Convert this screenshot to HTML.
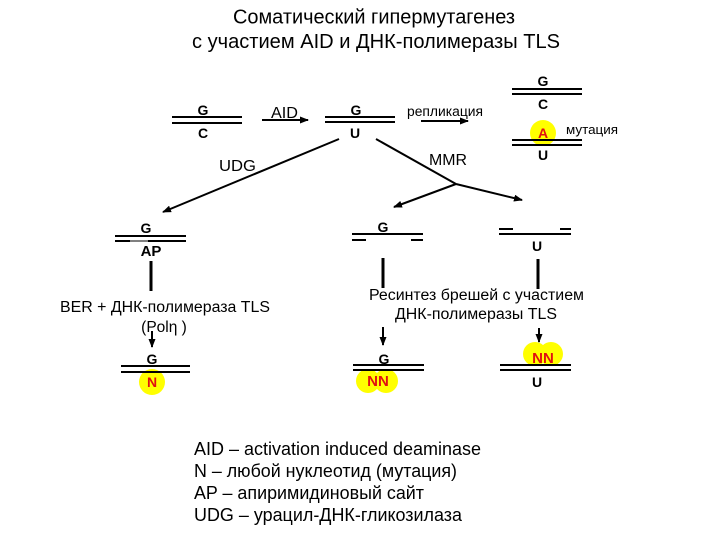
<!DOCTYPE html>
<html><head><meta charset="utf-8"><style>
html,body{margin:0;padding:0;background:#fff}
svg{display:block;font-family:"Liberation Sans",sans-serif}
text{fill:#000}
.b{font-weight:bold;font-size:14px;text-anchor:middle}
.r{font-weight:bold;font-size:14px;text-anchor:middle;fill:#e01010}
.m{font-size:15.5px}
.t{font-size:20px}
.l{font-size:18px}
</style></head><body>
<svg width="720" height="540" viewBox="0 0 720 540" xmlns="http://www.w3.org/2000/svg">
<defs><marker id="a" markerUnits="userSpaceOnUse" markerWidth="9" markerHeight="7" refX="8" refY="3.5" orient="auto"><path d="M0 0L9 3.5L0 7Z" fill="#000"/></marker></defs>
<text class="t" x="233" y="23.5" textLength="282" lengthAdjust="spacingAndGlyphs">Соматический гипермутагенез</text>
<text class="t" x="192" y="48" textLength="368" lengthAdjust="spacingAndGlyphs">с участием AID и ДНК-полимеразы TLS</text>

<g fill="#ffff00">
<circle cx="543" cy="133" r="13"/>
<circle cx="152" cy="382" r="13"/>
<circle cx="368" cy="381" r="12"/><circle cx="386" cy="381" r="12"/>
<circle cx="535" cy="354" r="12"/><circle cx="551" cy="354" r="12"/>
</g>

<g stroke="#000" stroke-width="2" fill="none">
<path d="M172 117H242M172 123H242"/>
<path d="M325 117H395M325 122H395"/>
<path d="M512 89H582M512 94H582"/>
<path d="M512 140H582M512 145H582"/>
<path d="M115 236H186M115 241H130M148 241H186"/>
<path d="M130 241H148" stroke-width="1"/>
<path d="M121 366H190M121 372H190"/>
<path d="M352 234H423M352 240H366M411 240H423"/>
<path d="M499 234H571M499 229H513M560 229H571"/>
<path d="M353 365H424M353 370H424"/>
<path d="M500 365H571M500 370H571"/>
<path d="M262 120H308" marker-end="url(#a)"/>
<path d="M421 121H468" marker-end="url(#a)"/>
<path d="M339 139L163 212" marker-end="url(#a)"/>
<path d="M376 139L456 184"/>
<path d="M456 184L394 207" marker-end="url(#a)"/>
<path d="M456 184L522 200" marker-end="url(#a)"/>
<path d="M151 261V291M383 258V288M538 259V289" stroke-width="3"/>
<path d="M152 331V347" marker-end="url(#a)"/>
<path d="M383 327V345" marker-end="url(#a)"/>
<path d="M539 328V342" marker-end="url(#a)"/>
</g>

<text class="b" x="203" y="115">G</text><text class="b" x="203" y="138">C</text>
<text class="m" x="271" y="118" textLength="27" lengthAdjust="spacingAndGlyphs">AID</text>
<text class="b" x="356" y="115">G</text><text class="b" x="355" y="138">U</text>
<text x="407" y="116" font-size="13.5" textLength="76" lengthAdjust="spacingAndGlyphs">репликация</text>
<text class="b" x="543" y="86">G</text><text class="b" x="543" y="109">C</text>
<text class="r" x="543" y="138">A</text><text class="b" x="543" y="160">U</text>
<text x="566" y="134" font-size="12.5" textLength="52" lengthAdjust="spacingAndGlyphs">мутация</text>
<text class="m" x="219" y="171" textLength="37" lengthAdjust="spacingAndGlyphs">UDG</text>
<text class="m" x="429" y="165" textLength="38" lengthAdjust="spacingAndGlyphs">MMR</text>

<text class="b" x="146" y="233">G</text><text class="b" x="151" y="256" style="font-size:15px">AP</text>
<text class="m" x="60" y="312" textLength="210" lengthAdjust="spacingAndGlyphs">BER + ДНК-полимераза TLS</text>
<text class="m" x="164" y="332" text-anchor="middle">(Polη )</text>
<text class="b" x="152" y="364">G</text><text class="r" x="152" y="387">N</text>

<text class="b" x="383" y="232">G</text>
<text class="b" x="537" y="251">U</text>
<text class="m" x="369" y="300" textLength="215" lengthAdjust="spacingAndGlyphs">Ресинтез брешей с участием</text>
<text class="m" x="395" y="319" textLength="162" lengthAdjust="spacingAndGlyphs">ДНК-полимеразы TLS</text>
<text class="b" x="384" y="364">G</text><text class="r" x="378" y="386" style="font-size:15px">NN</text>
<text class="r" x="543" y="363" style="font-size:15px">NN</text><text class="b" x="537" y="387">U</text>

<text class="l" x="194" y="455" textLength="287" lengthAdjust="spacingAndGlyphs">AID – activation induced deaminase</text>
<text class="l" x="194" y="477" textLength="263" lengthAdjust="spacingAndGlyphs">N – любой нуклеотид (мутация)</text>
<text class="l" x="194" y="499" textLength="230" lengthAdjust="spacingAndGlyphs">AP – апиримидиновый сайт</text>
<text class="l" x="194" y="521" textLength="268" lengthAdjust="spacingAndGlyphs">UDG – урацил-ДНК-гликозилаза</text>
</svg>
</body></html>
